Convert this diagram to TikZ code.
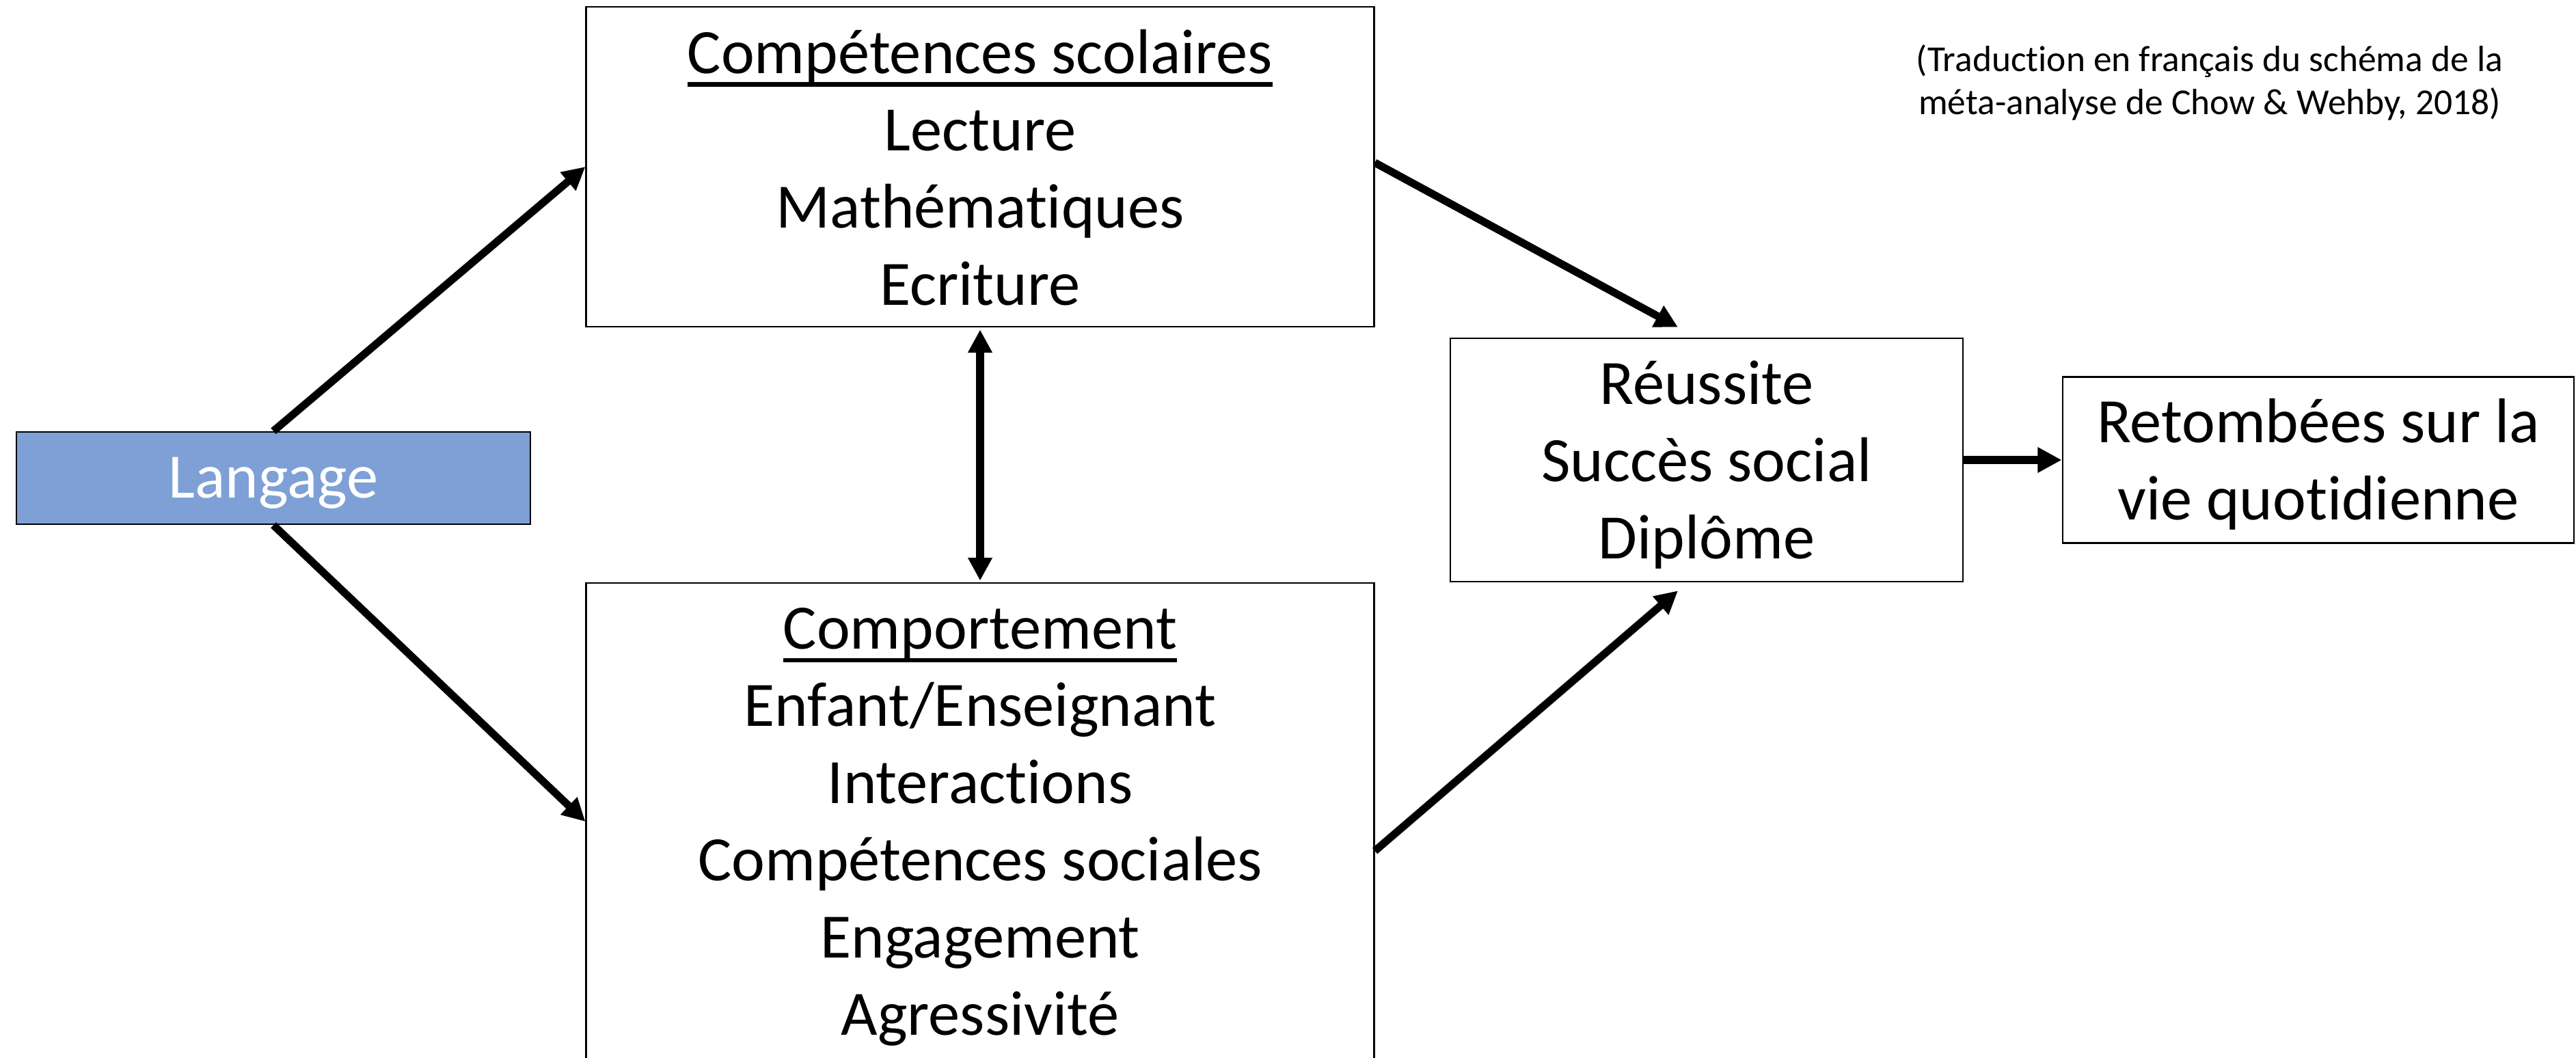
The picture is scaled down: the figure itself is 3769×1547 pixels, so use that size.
\documentclass[tikz,border=0pt]{standalone}
\usepackage{fontspec}
\setmainfont[RawFeature={-liga}]{Carlito}
\usetikzlibrary{arrows.meta}
\definecolor{langblue}{RGB}{127,160,214}
\newsavebox\ulbox
\newcommand\myul[1]{\sbox\ulbox{#1}\rlap{\rule[-0.21em]{\wd\ulbox}{0.07em}}\usebox\ulbox}
\begin{document}
\begin{tikzpicture}[x=0.01cm,y=-0.01cm,
  box/.style={draw=black, line width=0.7pt, inner sep=0pt},
  txt/.style={inner sep=0pt, align=center, font=\fontsize{26.3}{32.1}\selectfont},
  conn/.style={line width=3.2pt, -{Triangle[length=9.5pt,width=9.5pt]}},
  dconn/.style={line width=3.2pt, {Triangle[length=9.5pt,width=9.5pt]}-{Triangle[length=9.5pt,width=9.5pt]}},
  hconn/.style={line width=3.6pt, -{Triangle[length=10pt,width=10pt]}}]
\useasboundingbox (0,0) rectangle (3769,1547);
\fill[white] (0,0) rectangle (3769,1547);

\node[box, fill=langblue, minimum width=7.52cm, minimum height=1.35cm] (L) at (400,699.5) {};
\node[txt, text=white] (Lt) at ([shift={(0,7)}]L.center) {Langage};
\node[box, minimum width=11.52cm, minimum height=4.68cm] (T) at (1434,244) {};
\node[txt] (Tt) at ([shift={(0,1)}]T.center)
  {\myul{Compétences scolaires}\\Lecture\\Mathématiques\\Ecriture};
\node[box, minimum width=11.52cm, minimum height=6.98cm] (B) at (1434,1202) {};
\node[txt] (Bt) at ([shift={(0,8)}]B.center)
  {\myul{Comportement}\\Enfant/Enseignant\\Interactions\\Compétences sociales\\Engagement\\Agressivité};
\node[box, minimum width=7.50cm, minimum height=3.56cm] (R) at (2497,673) {};
\node[txt] (Rt) at ([shift={(0,7)}]R.center) {Réussite\\Succès social\\Diplôme};
\node[box, minimum width=7.48cm, minimum height=2.43cm] (Re) at (3392,673) {};
\node[txt] (Ret) at ([shift={(0,6)}]Re.center) {Retombées sur la\\vie quotidienne};
\node[align=center, inner sep=0pt, font=\fontsize{15.2}{17.8}\selectfont] (N) at (3233,121)
  {(Traduction en français du schéma de la\\méta-analyse de Chow \& Wehby, 2018)};

\draw[conn] (L.north) -- (T.west);
\draw[conn] (L.south) -- (B.west);
\draw[conn] ([shift={(0,-6)}]T.east) -- ([shift={(-42,-15)}]R.north);
\draw[conn] ([shift={(0,43)}]B.east) -- ([shift={(-42,12)}]R.south);
\draw[dconn] ([shift={(0,3)}]T.south) -- ([shift={(0,-2)}]B.north);
\draw[hconn] (R.east) -- (Re.west);
\end{tikzpicture}
\end{document}
